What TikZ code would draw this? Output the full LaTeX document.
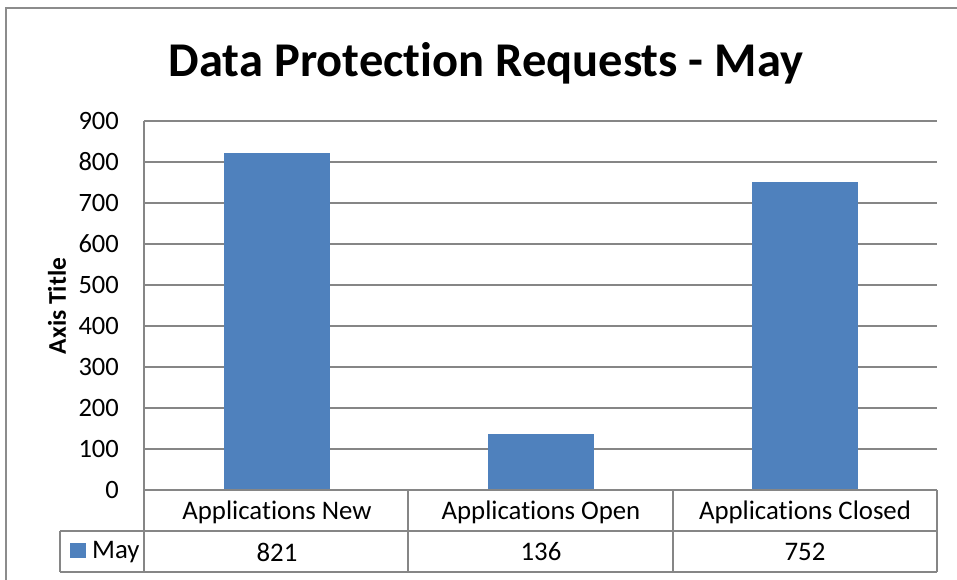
\documentclass[tikz,border=0pt]{standalone}
\usepackage{fontspec}
\setmainfont{Carlito}[Ligatures={NoCommon}]
\begin{document}
\begin{tikzpicture}[x=1pt,y=-1pt,
  gridline/.style={draw=gridgray,line width=1.6pt},
  framegray/.style={draw=framecol,line width=2pt},
  bar/.style={fill=barblue,draw=none},
  ticklabel/.style={anchor=east,inner sep=0pt,font=\fontsize{26.5}{30}\selectfont},
  celltext/.style={inner sep=0pt,font=\fontsize{26.8}{30}\selectfont},
]
\definecolor{gridgray}{HTML}{868686}
\definecolor{framecol}{HTML}{8C8C8C}
\definecolor{barblue}{HTML}{4F81BD}
\useasboundingbox (0,0) rectangle (957,580);

% outer chart frame (continues past the page edges)
\begin{scope}
\clip (0,0) rectangle (957,580);
\draw[framegray] (6,8) rectangle (970,600);
\end{scope}

% title
\node[inner sep=0pt,font=\bfseries\fontsize{48.5}{56}\selectfont] (title) at (486,63) {Data Protection Requests - May};

% horizontal gridlines and value labels
\foreach \v [count=\i from 0] in {0,100,200,300,400,500,600,700,800,900}{
  \pgfmathsetmacro{\yy}{490-41*\i}
  \node[ticklabel] (tick\i) at (119,\yy) {\v};
}
\foreach \i in {1,...,9}{
  \pgfmathsetmacro{\yy}{490-41*\i}
  \draw[gridline] (144,\yy) -- (937,\yy);
}

% axis title
\node[rotate=90,inner sep=0pt,font=\bfseries\fontsize{25.5}{30}\selectfont] (axtitle) at (57,306) {Axis Title};

% bars
\fill[bar] (224,490) rectangle (330,{490-821*0.41});
\fill[bar] (488,490) rectangle (594,{490-136*0.41});
\fill[bar] (752,490) rectangle (858,{490-752*0.41});

% data table
\draw[gridline] (144,121) -- (144,572);
\draw[gridline] (144,490) -- (937,490);
\draw[gridline] (60,531) -- (937,531);
\draw[gridline] (60,572) -- (937,572);
\draw[gridline] (60,531) -- (60,572);
\draw[gridline] (408,490) -- (408,572);
\draw[gridline] (673,490) -- (673,572);
\draw[gridline] (937,490) -- (937,572);

\node[celltext] (catA) at (277,512) {Applications New};
\node[celltext] (catB) at (541,512) {Applications Open};
\node[celltext] (catC) at (805,512) {Applications Closed};
\node[celltext] (valA) at (277,552) {821};
\node[celltext] (valB) at (541,552) {136};
\node[celltext] (valC) at (805,552) {752};

% legend key
\fill[barblue] (70,543) rectangle (86,558);
\node[celltext,anchor=west] (legend) at (92,552) {May};
\end{tikzpicture}
\end{document}
